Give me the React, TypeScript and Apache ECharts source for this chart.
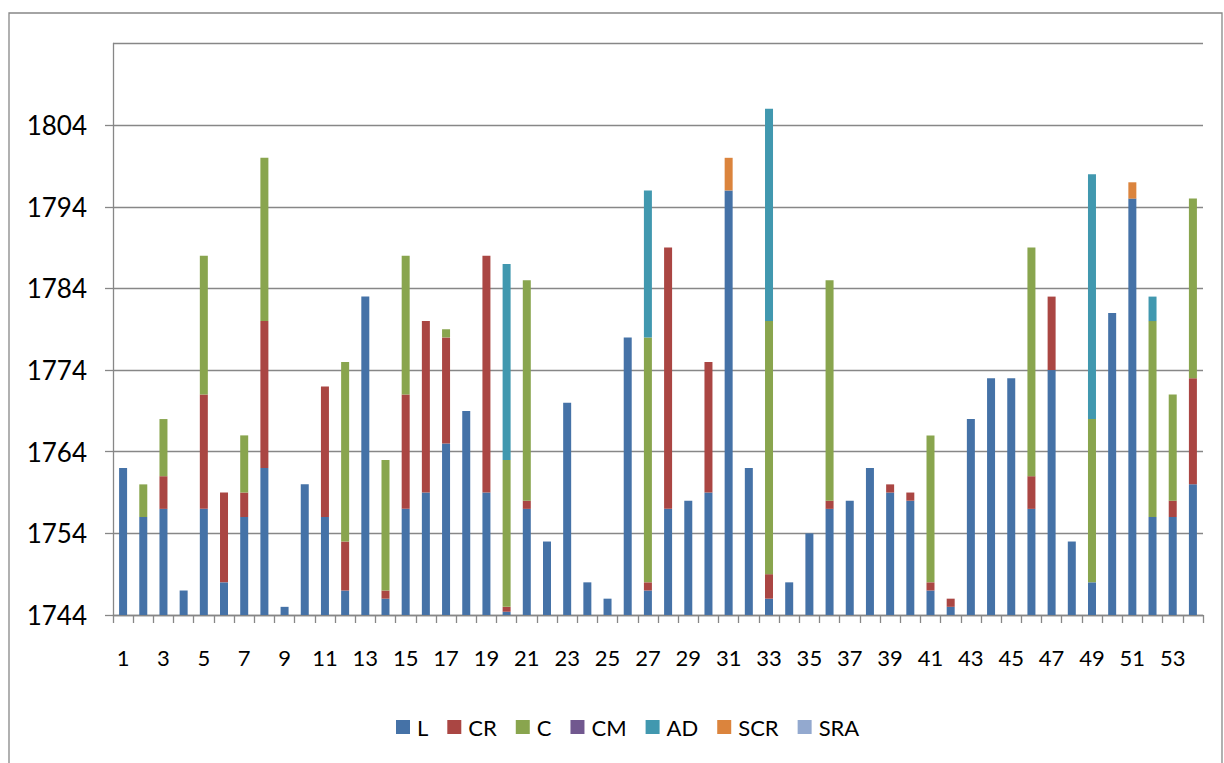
import React, { useEffect, useRef } from "react";
import * as echarts from "echarts";

const categories: string[] = Array.from({ length: 54 }, (_, i) => String(i + 1));

// stacked increments (L = absolute value, others = added on top)
const L = [1762, 1756, 1757, 1747, 1757, 1748, 1756, 1762, 1745, 1760,
  1756, 1747, 1783, 1746, 1757, 1759, 1765, 1769, 1759, 1744.4,
  1757, 1753, 1770, 1748, 1746, 1778, 1747, 1757, 1758, 1759,
  1796, 1762, 1746, 1748, 1754, 1757, 1758, 1762, 1759, 1758,
  1747, 1745, 1768, 1773, 1773, 1757, 1774, 1753, 1748, 1781,
  1795, 1756, 1756, 1760];
const CR = [null, null, 4, null, 14, 11, 3, 18, null, null,
  16, 6, null, 1, 14, 21, 13, null, 29, 0.6,
  1, null, null, null, null, null, 1, 32, null, 16,
  null, null, 3, null, null, 1, null, null, 1, 1,
  1, 1, null, null, null, 4, 9, null, null, null,
  null, null, 2, 13];
const C = [null, 4, 7, null, 17, null, 7, 20, null, null,
  null, 22, null, 16, 17, null, 1, null, null, 18,
  27, null, null, null, null, null, 30, null, null, null,
  null, null, 31, null, null, 27, null, null, null, null,
  18, null, null, null, null, 28, null, null, 20, null,
  null, 24, 13, 22];
const CM: (number | null)[] = categories.map(() => null);
const AD = [null, null, null, null, null, null, null, null, null, null,
  null, null, null, null, null, null, null, null, null, 24,
  null, null, null, null, null, null, 18, null, null, null,
  null, null, 26, null, null, null, null, null, null, null,
  null, null, null, null, null, null, null, null, 30, null,
  null, 3, null, null];
const SCR = [null, null, null, null, null, null, null, null, null, null,
  null, null, null, null, null, null, null, null, null, null,
  null, null, null, null, null, null, null, null, null, null,
  4, null, null, null, null, null, null, null, null, null,
  null, null, null, null, null, null, null, null, null, null,
  2, null, null, null];
const SRA: (number | null)[] = categories.map(() => null);

const seriesNames = ["L", "CR", "C", "CM", "AD", "SCR", "SRA"];
const seriesData = [L, CR, C, CM, AD, SCR, SRA];
const colors = ["#4572A7", "#AA4643", "#89A54E", "#71588F", "#4198AF", "#DB843D", "#93A9CF"];

const yMin = 1744;
const yMax = 1814;
const yInterval = 10;

const FONT = "Lato, 'Open Sans', sans-serif";
const GRAY = "#878787";

export default function App() {
  const ref = useRef<HTMLDivElement>(null);
  useEffect(() => {
    document.body.style.margin = "0";
    if (!ref.current) return;
    const chart = echarts.init(ref.current, undefined, { renderer: "svg" });
    chart.setOption({
      animation: false,
      backgroundColor: "#ffffff",
      color: colors,
      grid: { left: 113, top: 43.5, right: 21, bottom: 148, containLabel: false },
      graphic: [
        {
          type: "rect",
          shape: { x: 9, y: 13, width: 1213, height: 770 },
          style: { fill: "none", stroke: GRAY, lineWidth: 1.3 },
          silent: true,
          z: -10,
        },
      ],
      legend: {
        left: 391,
        top: 711,
        itemWidth: 14,
        itemHeight: 14,
        itemGap: 19,
        icon: "rect",
        data: seriesNames,
        textStyle: { fontFamily: FONT, fontSize: 22, color: "#000", padding: [0, 0, 0, 2] },
      },
      xAxis: {
        type: "category",
        data: categories,
        boundaryGap: true,
        axisLine: { show: true, lineStyle: { color: GRAY, width: 1.3 } },
        axisTick: { show: true, interval: 0, length: 8, lineStyle: { color: GRAY, width: 1.3 } },
        axisLabel: {
          interval: 1,
          margin: 31,
          fontFamily: FONT,
          fontSize: 22,
          color: "#000",
        },
        splitLine: { show: false },
      },
      yAxis: {
        type: "value",
        min: yMin,
        max: yMax,
        interval: yInterval,
        axisLine: { show: true, lineStyle: { color: GRAY, width: 1.3 } },
        axisTick: { show: true, length: 8, lineStyle: { color: GRAY, width: 1.3 } },
        axisLabel: {
          margin: 26,
          fontFamily: FONT,
          fontSize: 26,
          color: "#000",
          showMaxLabel: false,
          formatter: (v: number) => String(v),
        },
        splitLine: { show: true, lineStyle: { color: GRAY, width: 1.3 } },
      },
      series: seriesNames.map((name, i) => ({
        name,
        type: "bar",
        stack: "total",
        barWidth: 8,
        data: seriesData[i],
        itemStyle: { color: colors[i] },
      })),
    });
    return () => chart.dispose();
  }, []);
  return <div ref={ref} style={{ width: 1224, height: 763 }} />;
}
